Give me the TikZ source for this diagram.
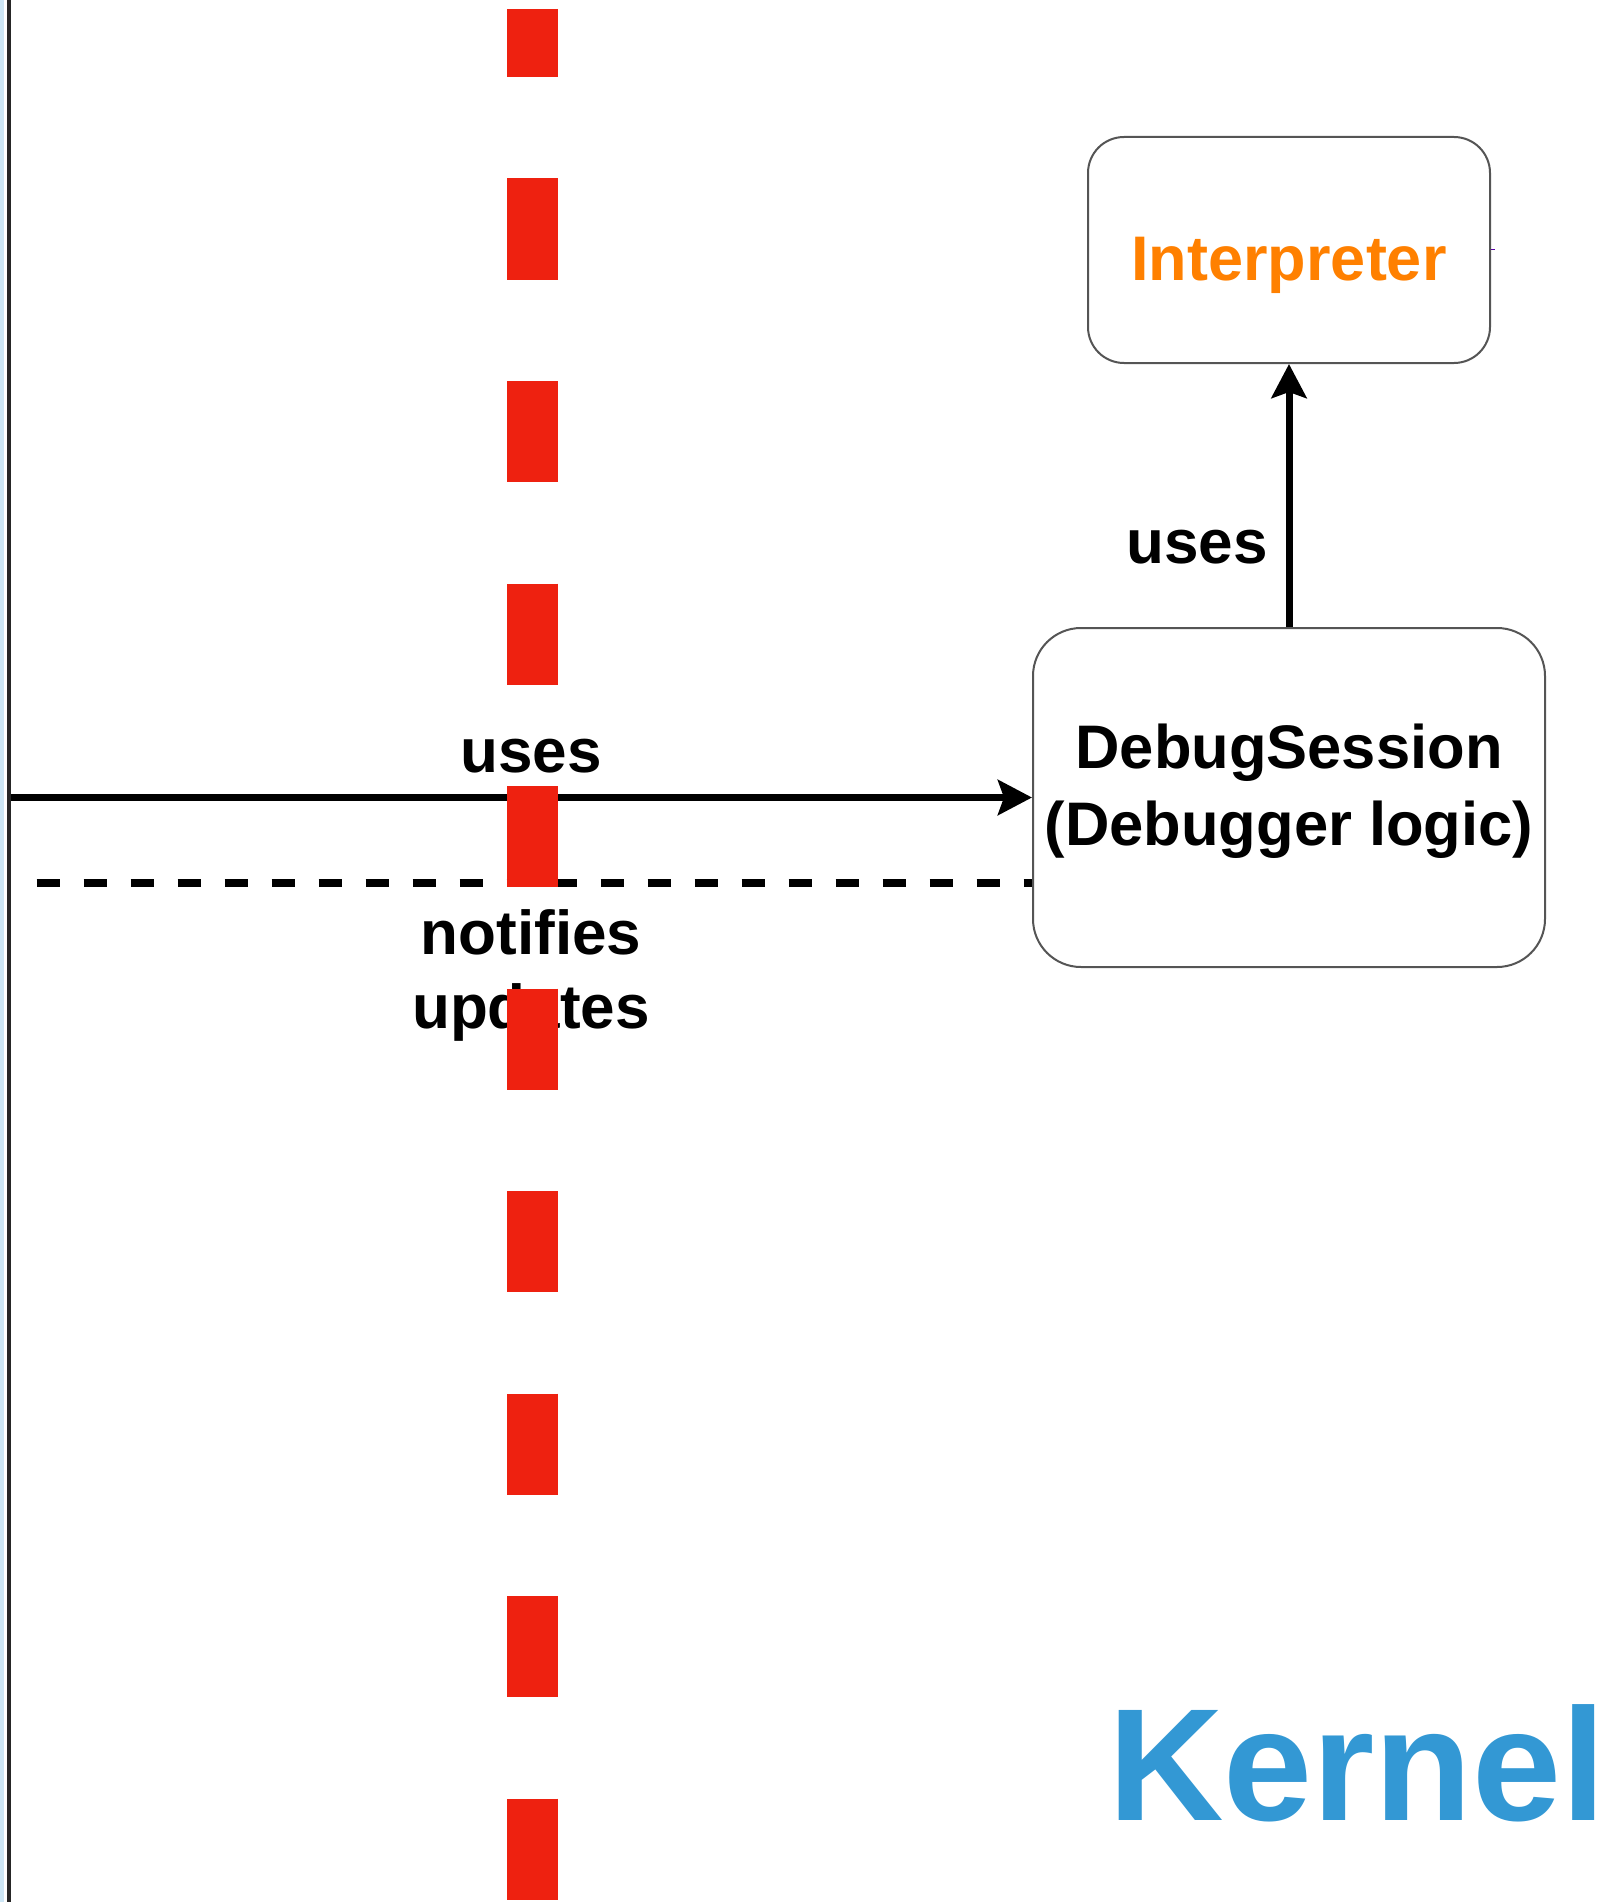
\documentclass[tikz,border=0pt]{standalone}
\usepackage{fontspec}
\setmainfont{Liberation Sans}
\usetikzlibrary{arrows.meta}
\definecolor{dashred}{RGB}{238,33,16}
\definecolor{interp}{RGB}{255,128,0}
\definecolor{kernelblue}{RGB}{51,152,212}
\definecolor{boxgray}{RGB}{85,85,85}
\definecolor{edgeblue}{RGB}{205,230,245}
\begin{document}
\begin{tikzpicture}[x=1pt,y=-1pt,
  box/.style={draw=boxgray, line width=2pt, fill=white, inner sep=0pt},
  lbl/.style={font=\fontsize{62}{74}\selectfont\bfseries, inner sep=0pt, anchor=base},
  conn/.style={line width=7pt, -{Stealth[length=34pt,width=35pt,inset=6pt]}},
  notif/.style={line width=8pt, dash pattern=on 23pt off 24pt},
  redline/.style={draw=dashred, line width=51pt, dash pattern=on 101pt off 101.5pt, dash phase=33pt}]
\useasboundingbox (0,0) rectangle (1613,1902);
% left edge strips
\fill[edgeblue] (0,0) rectangle (4,1902);
\draw[line width=4pt, black!85] (8.5,0) -- (8.5,1902);
% boxes
\node[box, rounded corners=36pt, minimum width=402pt, minimum height=226pt] (interp) at (1289,250) {};
\node[box, rounded corners=48pt, minimum width=512pt, minimum height=339pt] (debug) at (1289,797.5) {};
\node[lbl, text=interp, font=\fontsize{63}{74}\selectfont\bfseries] (interptext) at (1289,280) {Interpreter};
\node[lbl, font=\fontsize{61.5}{74}\selectfont\bfseries] (debugt1) at (1289,768) {DebugSession};
\node[lbl, font=\fontsize{61.5}{74}\selectfont\bfseries] (debugt2) at (1289,845) {(Debugger logic)};
% tiny purple mark
\draw[line width=1.5pt, violet!70!blue] (1491,249.5) -- (1495,249.5);
% connectors
\coordinate (hstart) at (11,797.5);
\coordinate (dstart) at (36.5,882.5);
\draw[conn] (hstart) -- (hstart -| debug.west);
\draw[notif] (dstart) -- (dstart -| debug.west);
\draw[conn] (debug.north) -- (interp.south);
% labels
\node[lbl] (uses1) at (531,772) {uses};
\node[lbl] (notif1) at (531,954) {notifies};
\node[lbl] (notif2) at (531,1028) {updates};
\node[lbl] (uses2) at (1197,563) {uses};
% Kernel
\node[font=\fontsize{160}{190}\selectfont\bfseries, text=kernelblue, inner sep=0pt, anchor=base] (kernel) at (1357,1820) {Kernel};
% red separator
\coordinate (rtop) at (532.5,9);
\coordinate (rbot) at (532.5,1902);
\draw[redline] (rtop) -- (rbot);
\end{tikzpicture}
\end{document}
